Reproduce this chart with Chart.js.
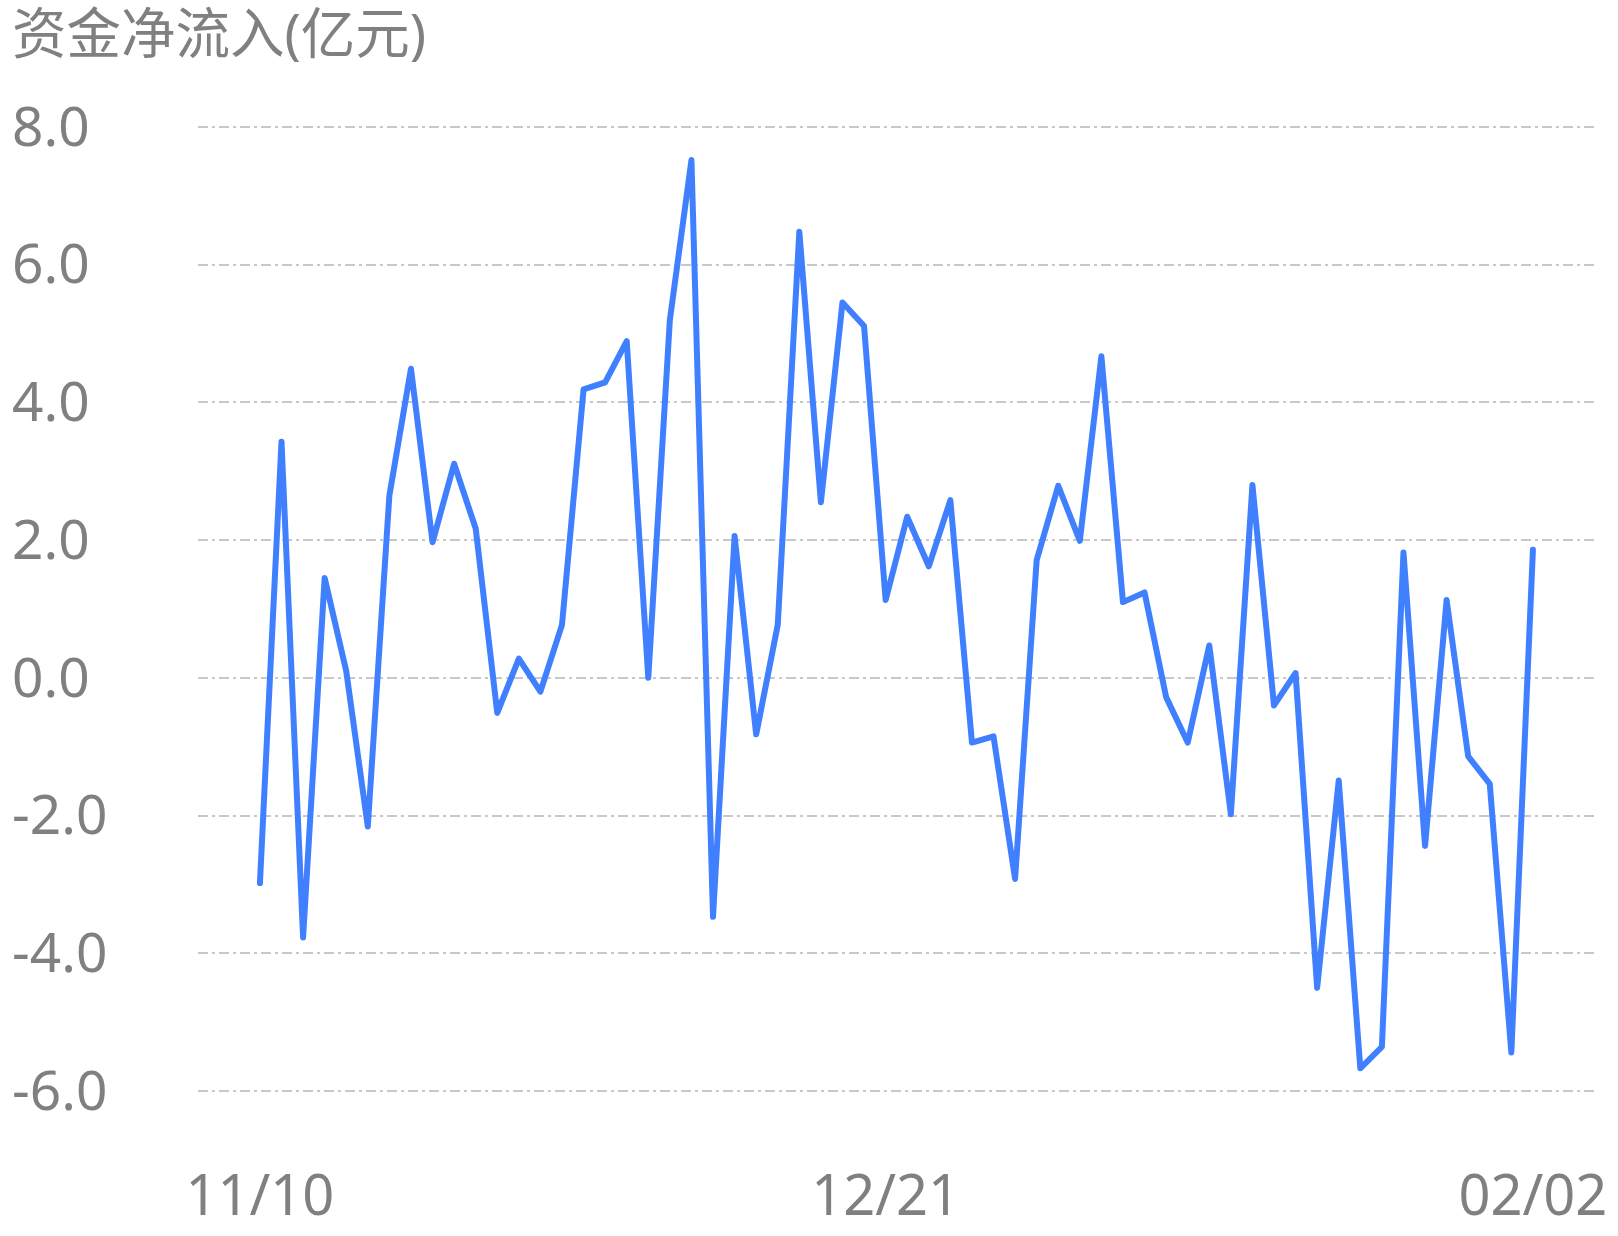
<!DOCTYPE html>
<html>
<head>
<meta charset="utf-8">
<script src="https://cdn.jsdelivr.net/npm/chart.js@4.4.1/dist/chart.umd.min.js"></script>
<style>
  html, body { margin: 0; padding: 0; background: #fff; }
  #chart { display: block; }
</style>
</head>
<body>
<canvas id="chart" width="1618" height="1236"></canvas>
<script>
// net fund inflow, 100M CNY, one value per trading day
const netInflow = [
  -2.98, 3.43, -3.77, 1.45, 0.10, -2.16, 2.65, 4.49, 1.97, 3.11,
  2.17, -0.51, 0.28, -0.20, 0.77, 4.19, 4.29, 4.89, 0.00, 5.20,
  7.52, -3.47, 2.06, -0.82, 0.77, 6.48, 2.55, 5.45, 5.11, 1.13,
  2.34, 1.62, 2.58, -0.94, -0.85, -2.92, 1.71, 2.79, 1.99, 4.67,
  1.10, 1.24, -0.28, -0.94, 0.47, -1.98, 2.80, -0.40, 0.07, -4.50,
  -1.49, -5.67, -5.36, 1.82, -2.44, 1.13, -1.14, -1.54, -5.44, 1.86
];

// only three dates are labelled on the x axis
const tickIndex = [0, 29, 59];
const tickLabels = ['11/10', '12/21', '02/02'];

const yTicks = [-6, -4, -2, 0, 2, 4, 6, 8];

const TEXT = '#808080';
const FONT = '"Noto Sans", "Noto Sans CJK SC", sans-serif';

const points = netInflow.map((v, i) => ({ x: i, y: v }));

new Chart(document.getElementById('chart'), {
  type: 'line',
  data: {
    datasets: [{
      data: points,
      borderColor: '#4080ff',
      borderWidth: 6,
      borderJoinStyle: 'round',
      borderCapStyle: 'round',
      pointRadius: 0,
      tension: 0,
      fill: false
    }]
  },
  options: {
    responsive: false,
    animation: false,
    events: [],
    layout: { padding: { left: 12, right: 21, top: 0, bottom: 0 } },
    plugins: {
      legend: { display: false },
      tooltip: { enabled: false },
      title: {
        display: true,
        text: '资金净流入(亿元)',
        align: 'start',
        color: TEXT,
        font: { family: FONT, size: 54.5, weight: 'normal', lineHeight: 1.2 },
        padding: { top: 5, bottom: 56.6 }
      }
    },
    scales: {
      x: {
        type: 'linear',
        min: -2.87,
        max: 61.97,
        grid: { display: false },
        border: { display: false },
        afterBuildTicks: s => { s.ticks = tickIndex.map(v => ({ value: v })); },
        afterFit: s => { s.height = 145; s.paddingLeft = 0; s.paddingRight = 0; },
        ticks: {
          autoSkip: false,
          maxRotation: 0,
          padding: 66,
          color: TEXT,
          font: { family: FONT, size: 56 },
          callback: v => tickLabels[tickIndex.indexOf(v)]
        }
      },
      y: {
        min: -6,
        max: 8,
        afterBuildTicks: s => { s.ticks = yTicks.map(v => ({ value: v })); },
        afterFit: s => { s.width = 186; },
        border: { display: false, dash: [10, 4, 3, 4] },
        grid: {
          color: '#c8c8c8',
          lineWidth: 2,
          drawTicks: false
        },
        ticks: {
          crossAlign: 'far',
          labelOffset: 3,
          color: TEXT,
          font: { family: FONT, size: 55 },
          callback: v => v.toFixed(1)
        }
      }
    }
  }
});
</script>
</body>
</html>
